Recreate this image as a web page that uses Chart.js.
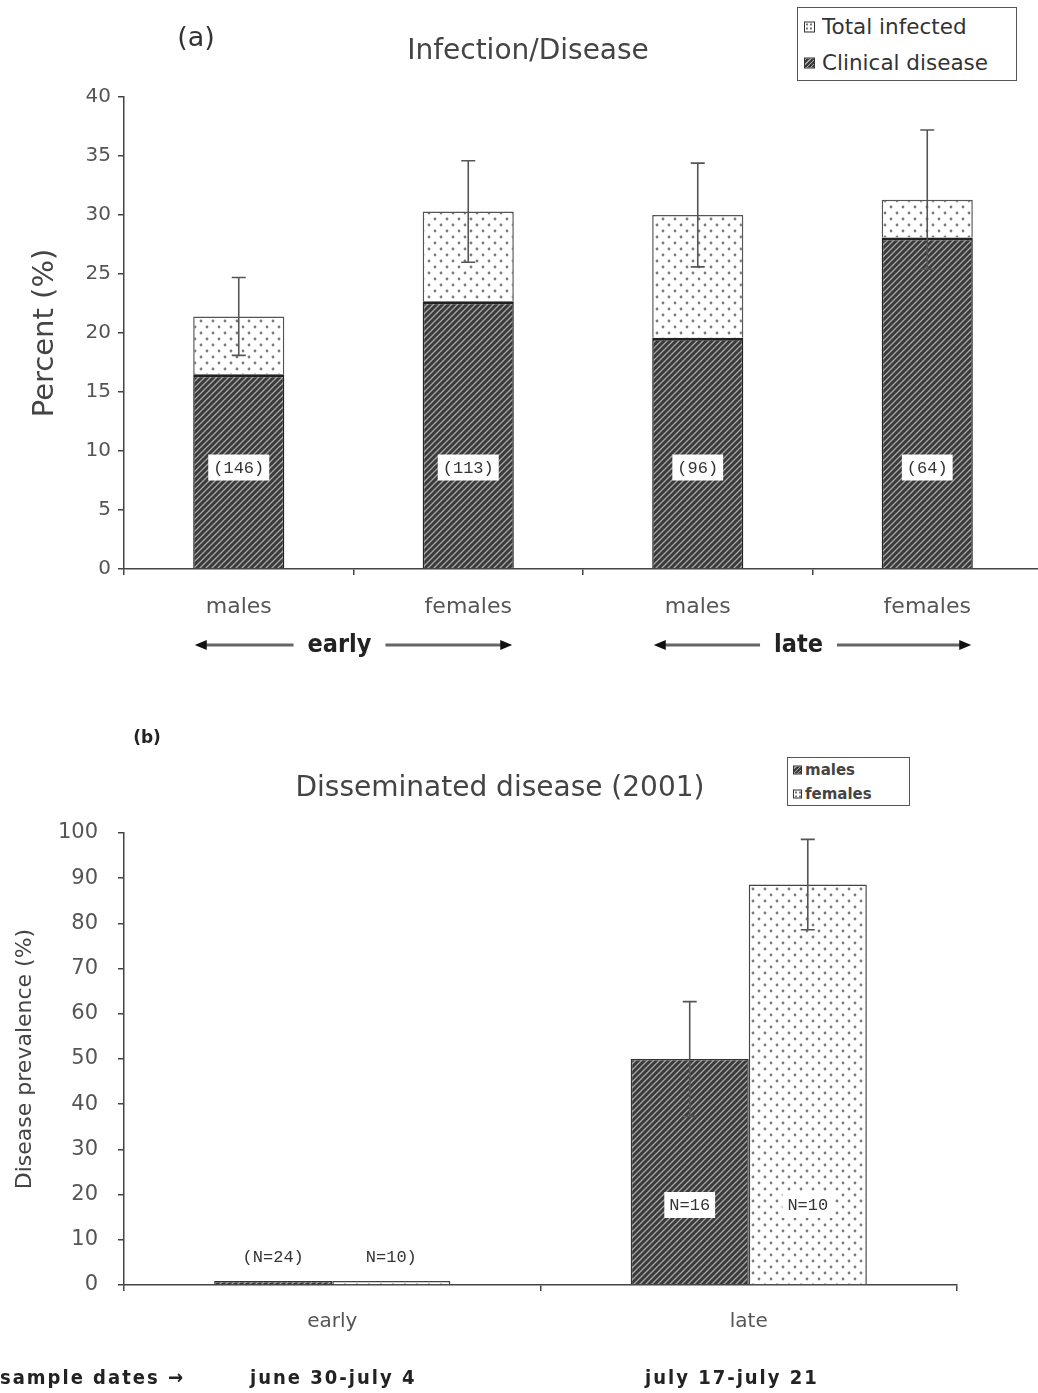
<!DOCTYPE html>
<html>
<head>
<meta charset="utf-8">
<script src="https://cdn.jsdelivr.net/npm/chart.js@4.4.1/dist/chart.umd.min.js"></script>
<style>
html, body { margin: 0; padding: 0; background: #fff; width: 1038px; height: 1393px; overflow: hidden; position: relative; }
.wrap { position: absolute; left: 0; }
.t { position: absolute; font-family: "DejaVu Sans", sans-serif; color: #444; white-space: nowrap; line-height: 1; transform: translate(-50%, -50%); }
.l { position: absolute; font-family: "DejaVu Sans", sans-serif; color: #333; white-space: nowrap; line-height: 1; transform: translateY(-50%); }
.cond { font-family: "DejaVu Sans Condensed", "DejaVu Sans", sans-serif; font-weight: bold; color: #222; letter-spacing: 2px; }
.legend { position: absolute; border: 1.5px solid #555; background: #fff; }
.sw { position: absolute; border: 1px solid #333; box-sizing: border-box; transform: translateY(-50%); }
.hatch { background: repeating-linear-gradient(-45deg, #3c3c3c 0 2px, #aaa 2px 3px); }
.dots { background: #fff radial-gradient(#777 30%, transparent 35%) 0 0 / 4px 4px; }
</style>
</head>
<body>

<div class="wrap" style="top:0;width:1050px;height:700px;"><canvas id="chartA" width="1050" height="700"></canvas></div>
<div class="wrap" style="top:700px;width:1050px;height:693px;"><canvas id="chartB" width="1050" height="693"></canvas></div>

<!-- panel (a) texts -->
<div class="t" style="left:196px;top:36px;font-size:27px;color:#333;">(a)</div>
<div class="t" style="left:528px;top:50px;font-size:28px;">Infection/Disease</div>
<div class="legend" style="left:797px;top:7px;width:218px;height:72px;">
  <div class="sw dots" style="left:6px;top:19px;width:11px;height:11px;"></div>
  <div class="l" style="left:24px;top:19px;font-size:21.5px;">Total infected</div>
  <div class="sw hatch" style="left:6px;top:55px;width:11px;height:11px;"></div>
  <div class="l" style="left:24px;top:55px;font-size:21.5px;">Clinical disease</div>
</div>

<!-- panel (b) texts -->
<div class="t" style="left:147px;top:737px;font-size:17px;font-weight:bold;color:#222;">(b)</div>
<div class="t" style="left:500px;top:787px;font-size:28px;">Disseminated disease (2001)</div>
<div class="legend" style="left:787px;top:757px;width:121px;height:47px;">
  <div class="sw hatch" style="left:5px;top:12px;width:9px;height:9px;"></div>
  <div class="l" style="left:17px;top:12px;font-size:15px;font-weight:bold;color:#444;">males</div>
  <div class="sw dots" style="left:5px;top:36px;width:9px;height:9px;"></div>
  <div class="l" style="left:17px;top:36px;font-size:15px;font-weight:bold;color:#444;">females</div>
</div>

<div id="sampleRow"></div>

<script>
// ---- data: panel (a) ----
const groupsA = ['males', 'females', 'males', 'females'];
const periodsA = ['early', 'late'];
const clinicalA = [16.5, 22.7, 19.6, 28.1];
const totalA = [21.4, 30.3, 30.0, 31.3];
const errA = [3.3, 4.3, 4.4, 5.9];
const countsA = ['(146)', '(113)', '(96)', '(64)'];
const yTicksA = [0, 5, 10, 15, 20, 25, 30, 35, 40];

// ---- data: panel (b) ----
const periodsB = ['early', 'late'];
const malesB = [0.9, 50.0];
const femalesB = [0.9, 88.6];
const errMalesB = [0, 12.7];
const errFemalesB = [0, 10.0];
const countsMalesB = ['(N=24)', 'N=16'];
const countsFemalesB = ['N=10)', 'N=10'];
const yTicksB = [0, 10, 20, 30, 40, 50, 60, 70, 80, 90, 100];
const sampleDates = ['june 30-july 4', 'july 17-july 21'];

const FONT = 'DejaVu Sans';
const TXT = '#555';
const AXIS = '#444';

// 填充图案
function hatchPattern() {
    const c = document.createElement('canvas');
    c.width = 6; c.height = 6;
    const g = c.getContext('2d');
    g.fillStyle = '#3a3a3a';
    g.fillRect(0, 0, 6, 6);
    g.strokeStyle = '#a6a6a6';
    g.lineWidth = 1.3;
    g.beginPath();
    g.moveTo(0, 6); g.lineTo(6, 0);
    g.moveTo(-3, 3); g.lineTo(3, -3);
    g.moveTo(3, 9); g.lineTo(9, 3);
    g.stroke();
    return g.createPattern(c, 'repeat');
}

function dotPattern() {
    const c = document.createElement('canvas');
    c.width = 12; c.height = 12;
    const g = c.getContext('2d');
    g.fillStyle = '#fff';
    g.fillRect(0, 0, 12, 12);
    g.fillStyle = '#7a7a7a';
    g.beginPath(); g.arc(3, 3, 1.4, 0, Math.PI * 2); g.fill();
    g.beginPath(); g.arc(9, 9, 1.4, 0, Math.PI * 2); g.fill();
    return g.createPattern(c, 'repeat');
}

const HATCH = hatchPattern();
const DOTS = dotPattern();

// 误差线
function errorBarPlugin(items) {
    return {
        id: 'errorBars',
        afterDatasetsDraw(chart) {
            const ctx = chart.ctx;
            const y = chart.scales.y;
            items.forEach(it => {
                const meta = chart.getDatasetMeta(it.dataset);
                meta.data.forEach((bar, i) => {
                    const e = it.err[i];
                    if (!e) return;
                    const yt = y.getPixelForValue(it.center[i] + e);
                    const yb = y.getPixelForValue(it.center[i] - e);
                    ctx.save();
                    ctx.strokeStyle = '#555';
                    ctx.lineWidth = 1.6;
                    ctx.beginPath();
                    ctx.moveTo(bar.x, yt); ctx.lineTo(bar.x, yb);
                    ctx.moveTo(bar.x - 7, yt); ctx.lineTo(bar.x + 7, yt);
                    ctx.moveTo(bar.x - 7, yb); ctx.lineTo(bar.x + 7, yb);
                    ctx.stroke();
                    ctx.restore();
                });
            });
        }
    };
}

// 样本量标签
function boxLabel(ctx, text, x, y, box) {
    ctx.save();
    ctx.font = '17px "Liberation Mono", monospace';
    ctx.textAlign = 'center';
    ctx.textBaseline = 'middle';
    const w = ctx.measureText(text).width;
    if (box) {
        ctx.fillStyle = '#fff';
        ctx.fillRect(x - w / 2 - 5, y - 13, w + 10, 26);
    }
    ctx.fillStyle = '#333';
    ctx.fillText(text, x, y + 1);
    ctx.restore();
}

const countLabelsA = {
    id: 'countLabelsA',
    afterDatasetsDraw(chart) {
        const y = chart.scales.y;
        chart.getDatasetMeta(0).data.forEach((bar, i) => {
            boxLabel(chart.ctx, countsA[i], bar.x, y.getPixelForValue(8.6), true);
        });
    }
};

// early / late 箭头
const periodArrows = {
    id: 'periodArrows',
    afterDraw(chart) {
        const ctx = chart.ctx;
        const meta = chart.getDatasetMeta(0);
        const yy = 645;
        periodsA.forEach((p, k) => {
            const b0 = meta.data[2 * k], b1 = meta.data[2 * k + 1];
            const left = b0.x - 44, right = b1.x + 44;
            const mid = (b0.x + b1.x) / 2 - 14;
            ctx.save();
            ctx.font = 'bold 25px "DejaVu Sans Condensed", "DejaVu Sans"';
            ctx.textAlign = 'center';
            ctx.textBaseline = 'middle';
            ctx.fillStyle = '#222';
            ctx.fillText(p, mid, yy);
            const w = ctx.measureText(p).width;
            ctx.strokeStyle = '#666';
            ctx.lineWidth = 3;
            ctx.beginPath();
            ctx.moveTo(left + 8, yy); ctx.lineTo(mid - w / 2 - 14, yy);
            ctx.moveTo(mid + w / 2 + 14, yy); ctx.lineTo(right - 8, yy);
            ctx.stroke();
            ctx.fillStyle = '#111';
            ctx.beginPath();
            ctx.moveTo(left, yy); ctx.lineTo(left + 12, yy - 5); ctx.lineTo(left + 12, yy + 5); ctx.closePath();
            ctx.moveTo(right, yy); ctx.lineTo(right - 12, yy - 5); ctx.lineTo(right - 12, yy + 5); ctx.closePath();
            ctx.fill();
            ctx.restore();
        });
    }
};

const countLabelsB = {
    id: 'countLabelsB',
    afterDatasetsDraw(chart) {
        const y = chart.scales.y;
        [countsMalesB, countsFemalesB].forEach((labels, d) => {
            chart.getDatasetMeta(d).data.forEach((bar, i) => {
                const v = chart.data.datasets[d].data[i];
                if (v < 5) {
                    boxLabel(chart.ctx, labels[i], bar.x, y.getPixelForValue(6.4), false);
                } else {
                    boxLabel(chart.ctx, labels[i], bar.x, y.getPixelForValue(17.7), true);
                }
            });
        });
    }
};

function yAxis(ticks, max, titleText, titleSize, titlePad, tickPad, fontSize) {
    return {
        min: 0, max: max,
        afterBuildTicks: s => { s.ticks = ticks.map(v => ({ value: v })); },
        ticks: { color: TXT, padding: tickPad, font: { family: FONT, size: fontSize } },
        grid: { drawOnChartArea: false, tickLength: 6, color: AXIS, lineWidth: 1.5 },
        border: { color: AXIS, width: 1.5 },
        title: {
            display: true, text: titleText, color: '#444',
            font: { family: FONT, size: titleSize }, padding: { top: titlePad, bottom: 0 }
        },
        afterFit: s => { s.width = 124; }
    };
}

// ---- chart (a) ----
new Chart(document.getElementById('chartA'), {
    type: 'bar',
    data: {
        labels: groupsA,
        datasets: [
            {
                label: 'Clinical disease',
                data: clinicalA,
                backgroundColor: HATCH,
                borderColor: '#222',
                borderWidth: { top: 3, left: 1.5, right: 1.5, bottom: 0 },
                borderSkipped: false
            },
            {
                label: 'Total infected',
                data: totalA.map((t, i) => t - clinicalA[i]),
                backgroundColor: DOTS,
                borderColor: '#555',
                borderWidth: { top: 1.5, left: 1.5, right: 1.5, bottom: 0 },
                borderSkipped: false
            }
        ]
    },
    options: {
        responsive: false,
        animation: false,
        layout: { padding: { top: 97, right: 8, left: 0, bottom: 0 } },
        datasets: { bar: { categoryPercentage: 1, barPercentage: 0.397 } },
        plugins: { legend: { display: false }, tooltip: { enabled: false } },
        scales: {
            x: {
                stacked: true,
                ticks: { color: TXT, padding: 19, font: { family: FONT, size: 22 } },
                grid: { drawOnChartArea: false, tickLength: 6, offset: true, color: AXIS, lineWidth: 1.5 },
                border: { color: AXIS, width: 1.5 },
                afterFit: s => { s.height = 131; }
            },
            y: Object.assign(yAxis(yTicksA, 40, 'Percent (%)', 29, 28, 7, 20), { stacked: true })
        }
    },
    plugins: [
        errorBarPlugin([{ dataset: 1, center: totalA, err: errA }]),
        countLabelsA,
        periodArrows
    ]
});

// ---- chart (b) ----
new Chart(document.getElementById('chartB'), {
    type: 'bar',
    data: {
        labels: periodsB,
        datasets: [
            {
                label: 'males',
                data: malesB,
                backgroundColor: HATCH,
                borderColor: '#333',
                borderWidth: 1.5,
                borderSkipped: 'start'
            },
            {
                label: 'females',
                data: femalesB,
                backgroundColor: DOTS,
                borderColor: '#444',
                borderWidth: 1.5,
                borderSkipped: 'start'
            }
        ]
    },
    options: {
        responsive: false,
        animation: false,
        layout: { padding: { top: 133, right: 93, left: 0, bottom: 0 } },
        datasets: { bar: { categoryPercentage: 0.567, barPercentage: 1 } },
        plugins: { legend: { display: false }, tooltip: { enabled: false } },
        scales: {
            x: {
                ticks: { color: TXT, padding: 19, font: { family: FONT, size: 20 } },
                grid: { drawOnChartArea: false, tickLength: 6, offset: true, color: AXIS, lineWidth: 1.5 },
                border: { color: AXIS, width: 1.5 },
                afterFit: s => { s.height = 108; }
            },
            y: yAxis(yTicksB, 100, 'Disease prevalence (%)', 22, 12, 20, 21)
        }
    },
    plugins: [
        errorBarPlugin([
            { dataset: 0, center: malesB, err: errMalesB },
            { dataset: 1, center: femalesB, err: errFemalesB }
        ]),
        countLabelsB
    ]
});

// sample dates 行
const row = document.getElementById('sampleRow');
const sampleLeft = [250, 645];
row.innerHTML = '<div class="l cond" style="left:0;top:1377px;font-size:20px;">sample dates \u2192</div>' +
    sampleDates.map((d, i) => `<div class="l cond" style="left:${sampleLeft[i]}px;top:1377px;font-size:20px;">${d}</div>`).join('');
</script>
</body>
</html>
